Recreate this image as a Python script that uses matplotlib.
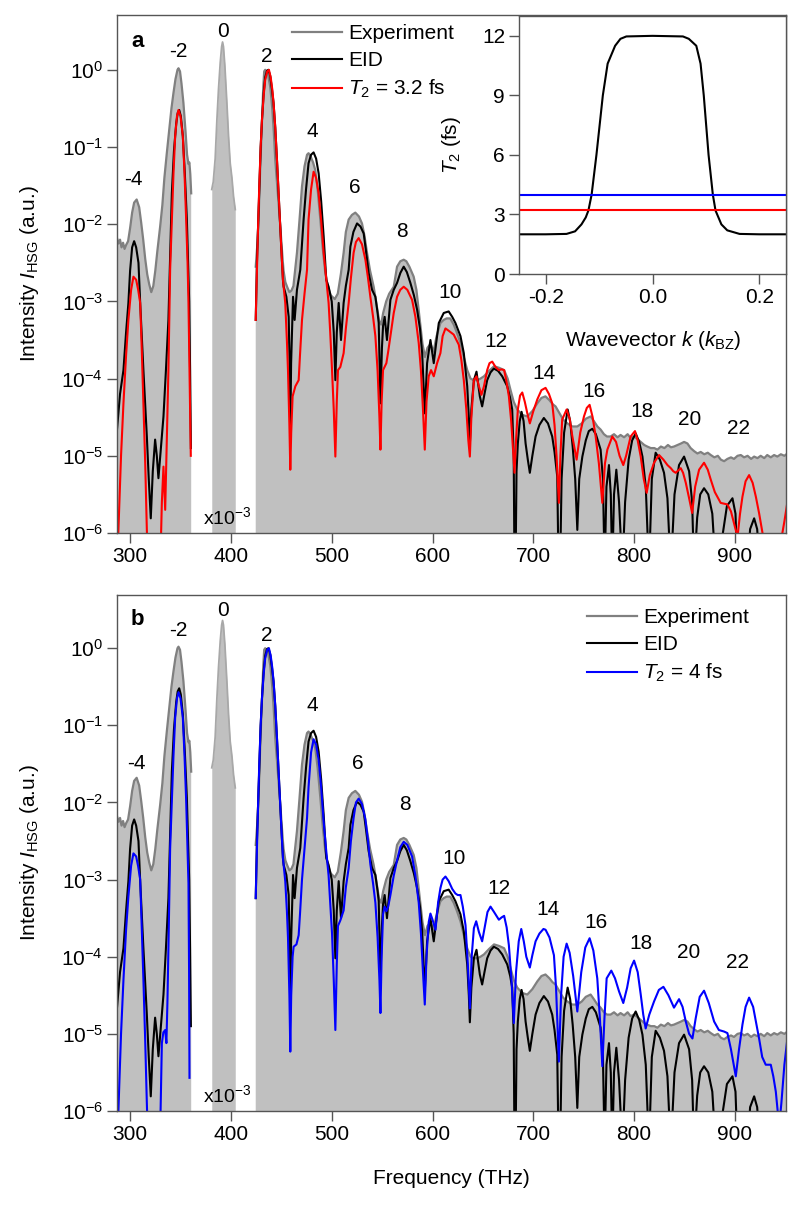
import matplotlib.pyplot as plt
import numpy as np

plt.rcParams['font.family'] = ['Liberation Sans', 'DejaVu Sans']
plt.rcParams['mathtext.fontset'] = 'custom'
plt.rcParams['mathtext.rm'] = 'Liberation Sans'
plt.rcParams['mathtext.it'] = 'Liberation Sans:italic'
plt.rcParams['mathtext.bf'] = 'Liberation Sans:bold'
plt.rcParams['axes.unicode_minus'] = False

nan = np.nan

# experiment, sidebands (log10 of intensity), gap around the laser line
exp_freq = [287, 288.5, 290, 291.5, 293, 294.5, 296, 298, 300, 302, 304, 306.5, 309, 311, 313, 315, 317, 319,
            321, 323, 325, 327, 329.8, 332, 334, 336.4, 339, 341, 343, 345, 347, 348, 349.5, 351, 352.9, 355,
            356.5, 357.9, 358.8, 359.7, 360.6, nan,
            424.6, 426, 427.4, 429, 430.8, 432, 433, 434, 435.5, 437, 439, 441, 442.5, 444, 446.5, 449, 451,
            452.2, 454, 456, 458, 460, 462, 465.5, 468, 470.5, 473, 475.5, 477, 479, 481.5, 483.7, 486, 488.7,
            491, 493.6, 496, 499, 503, 506, 509, 511.8, 514, 516.8, 520, 523.4, 527, 530, 532.5, 535, 538,
            541.6, 544, 547, 549, 551, 554, 557, 561.5, 564.8, 568, 571.4, 574, 577, 581.3, 584, 587, 590,
            592.5, 595, 598, 601, 604, 607.8, 611, 614, 617.5, 621, 624, 627.7, 631, 634.4, 637.7, 641, 644.3,
            647.5, 651, 656, 661, 666, 671, 674.5, 677.4, 680.5, 684, 689, 694, 699, 703.9, 708, 712, 716, 719,
            722, 726, 729.5, 733.7, 738.5, 743.6, 748, 752, 756.8, 760, 763.5, 766.7, 770, 773, 776.6, 780,
            783.5, 786.5, 790, 793.5, 796.5, 799.8, 803, 806.5, 810, 813, 816.5, 820, 823, 826.5, 830, 833.5,
            836.5, 839.5, 843, 846.5, 849.5, 852.8, 856, 859.5, 862.7, 866, 869.5, 873, 876, 879.5, 883, 886,
            889.2, 892.5, 896, 899, 902.5, 905.8, 909, 912.5, 916, 919, 922.3, 925.5, 929, 932, 935.5, 938.8,
            942, 945.5, 949, 952]
exp_log = [-2.18, -2.25, -2.20, -2.30, -2.24, -2.32, -2.27, -2.22, -2.05, -1.85, -1.72, -1.68, -1.78, -1.98,
           -2.2, -2.45, -2.65, -2.78, -2.88, -2.80, -2.60, -2.35, -2.03, -1.75, -1.40, -1.08, -0.75, -0.50,
           -0.30, -0.12, 0.0, 0.02, -0.02, -0.18, -0.43, -0.80, -1.10, -1.22, -1.20, -1.35, -1.6, nan,
           -2.55, -2.3, -1.94, -1.3, -0.65, -0.25, -0.02, 0.0, -0.03, -0.08, -0.22, -0.5, -0.8, -1.17, -1.6,
           -2.03, -2.4, -2.6, -2.75, -2.82, -2.88, -2.86, -2.8, -2.37, -1.95, -1.51, -1.25, -1.10, -1.08,
           -1.12, -1.2, -1.30, -1.55, -1.94, -2.3, -2.63, -2.8, -2.92, -2.97, -2.9, -2.65, -2.37, -2.1, -1.94,
           -1.88, -1.85, -1.9, -1.99, -2.15, -2.37, -2.6, -2.81, -3.0, -3.25, -3.3, -3.15, -3.0, -2.9, -2.81,
           -2.55, -2.48, -2.46, -2.48, -2.55, -2.68, -2.85, -3.2, -3.55, -3.72, -3.6, -3.55, -3.65, -3.45,
           -3.28, -3.24, -3.22, -3.22, -3.3, -3.4, -3.54, -3.72, -3.89, -4.0, -4.02, -4.02, -4.0, -3.97, -3.9,
           -3.84, -3.86, -3.89, -4.0, -4.15, -4.3, -4.40, -4.47, -4.49, -4.42, -4.32, -4.25, -4.23, -4.28,
           -4.33, -4.36, -4.45, -4.53, -4.58, -4.62, -4.62, -4.58, -4.52, -4.49, -4.55, -4.62, -4.66, -4.72,
           -4.75, -4.75, -4.72, -4.76, -4.73, -4.76, -4.72, -4.77, -4.75, -4.78, -4.82, -4.86, -4.88, -4.9,
           -4.9, -4.92, -4.88, -4.9, -4.86, -4.89, -4.88, -4.86, -4.84, -4.82, -4.84, -4.9, -4.94, -4.97,
           -4.95, -4.98, -4.96, -4.99, -5.02, -5.0, -5.05, -5.07, -5.04, -5.02, -5.04, -5.0, -4.99, -5.02,
           -5.0, -5.04, -5.01, -5.03, -5.0, -5.03, -4.99, -5.02, -4.99, -5.01, -4.98, -5.0, -4.97]

# zero order (shown x10^-3)
zero_freq = [381, 382.5, 384.4, 386.1, 387.7, 389.4, 390.8, 391.7, 392.6, 394, 396, 397.6, 399.3, 401,
             402.6, 404.3]
zero_log = [-1.55, -1.45, -1.15, -0.65, -0.25, 0.09, 0.3, 0.36, 0.3, 0.05, -0.43, -0.85, -1.21, -1.4,
            -1.64, -1.81]

# EID calculation
eid_freq = [287, 290, 293.4, 296, 298.3, 300, 302, 304, 306, 308.3, 310, 313.2, 316.6, 318.5, 320.5, 322.5,
            324.8, 326.5, 328.1, 330.5, 333.1, 335.5, 338, 339.7, 341.4, 343.5, 345.7, 347.2, 348.7, 350.3,
            352.3, 354.3, 356.3, 357.5, 358.6, 359.5, 360.3, nan,
            424.6, 425.2, 425.8, 427, 428.1, 429.5, 430.8, 432.5, 434, 435.8, 437.2, 439, 440.7, 442.3, 444,
            445.7, 447.3, 449, 450.3, 451.6, 452.3, 455, 457.3, 458.2, 458.9, 459.7, 461.6, 463.2, 465.5,
            468.8, 470.5, 472.1, 474.5, 477, 479.5, 482, 484.5, 487, 489.5, 492, 494.6, 496.9, 500, 502, 503.6,
            505, 506.9, 509.2, 511.8, 514, 516.8, 518.5, 521.5, 525.1, 528.5, 531.7, 534, 536.6, 540, 543.3,
            545.5, 546.6, 548.3, 549.8, 550.9, 552.5, 554.8, 558.2, 561.5, 564.8, 568.1, 571.4, 574.5, 578,
            581.5, 584.7, 587.5, 589.7, 592.3, 594.6, 597.9, 601.2, 603.5, 606.2, 611.1, 616, 619.5, 622.7,
            627.7, 631, 634.4, 636, 637, 638.5, 641, 643.6, 646.9, 649.2, 651.5, 654.2, 657.5, 660.8, 665,
            669.1, 674.1, 677, 679, 680.5, 681.3, 682.3, 683.3, 684.6, 686.5, 688.3, 690.3, 692.3, 694.5,
            696.5, 699, 702.2, 706, 710.4, 714.5, 718.7, 721, 723.7, 725, 726.5, 728, 730.5, 734, 736.5, 739,
            741.5, 743.6, 745.5, 748.6, 752, 755, 758.5, 762, 766.7, 769, 770.7, 772.5, 775, 776.8, 778.3,
            780, 782.3, 785, 788.3, 791, 794.5, 798, 801.5, 805, 808.2, 811.5, 814.7, 817.5, 821.3, 825.5,
            829.6, 833, 836.3, 840, 844.5, 849.5, 854.5, 857.5, 859.4, 862.5, 865.5, 869.3, 873.5, 877.5, 881,
            884, 888, 892, 897.5, 900.5, 902.5, 912, 915, 919, 922, 925, 952]
eid_log = [-4.66, -4.2, -3.89, -3.4, -3.02, -2.6, -2.3, -2.22, -2.3, -2.5, -3.02, -3.89, -4.75, -5.3, -5.81,
           -5.2, -4.79, -5.0, -5.29, -4.9, -4.49, -3.9, -3.24, -2.4, -1.6, -1.05, -0.70, -0.56, -0.52, -0.6,
           -0.86, -1.35, -1.94, -2.5, -3.0, -3.9, -4.9, nan,
           -3.24, -2.9, -2.5, -2.0, -1.51, -1.0, -0.65, -0.3, -0.1, -0.01, 0.0, -0.08, -0.25, -0.43, -0.75,
           -1.17, -1.6, -2.03, -2.4, -2.72, -2.81, -2.94, -3.2, -3.8, -4.71, -3.8, -2.94, -3.24, -2.85, -2.59,
           -2.25, -1.94, -1.55, -1.21, -1.1, -1.07, -1.15, -1.34, -1.7, -2.16, -2.72, -2.81, -3.0, -3.4, -4.02,
           -3.4, -3.02, -3.5, -3.02, -2.8, -2.59, -2.29, -2.1, -1.99, -2.03, -2.12, -2.35, -2.63, -2.85, -2.94,
           -3.15, -3.28, -4.32, -3.6, -3.32, -3.2, -3.5, -2.98, -2.85, -2.76, -2.63, -2.55, -2.62, -2.76,
           -2.92, -3.11, -3.35, -3.67, -4.45, -3.80, -3.5, -3.8, -3.55, -3.28, -3.15, -3.13, -3.2, -3.28,
           -3.45, -3.67, -4.1, -4.5, -4.85, -4.4, -4.02, -3.91, -4.23, -4.36, -4.2, -4.02, -3.92, -3.87, -3.9,
           -3.97, -4.10, -4.25, -4.40, -5.0, -6.5, -6.5, -5.2, -4.84, -4.55, -4.43, -4.55, -4.84, -5.05,
           -5.22, -5.0, -4.75, -4.6, -4.51, -4.58, -4.75, -4.95, -5.27, -6.5, -6.5, -5.3, -4.7, -4.40, -4.55,
           -4.88, -5.3, -5.96, -5.3, -5.01, -4.8, -4.68, -4.65, -4.72, -4.92, -5.3, -6.5, -5.4, -5.12, -5.5,
           -6.5, -5.5, -5.18, -5.6, -6.5, -5.6, -5.05, -4.8, -4.71, -4.82, -5.01, -5.4, -6.5, -5.3, -4.96,
           -5.05, -5.22, -5.55, -6.5, -5.5, -5.12, -5.01, -5.2, -5.6, -6.5, -5.8, -5.5, -5.42, -5.5, -5.75,
           -6.5, -6.5, -6.0, -5.65, -5.55, -5.75, -6.5, -6.5, -5.95, -5.81, -5.95, -6.5, -6.5]

# constant T2 = 3.2 fs (panel a)
t32_freq = [287, 288.4, 291, 293.4, 296, 298.3, 301, 303.3, 306, 308, 310, 311.5, 313.2, 315, 316.6, 318,
            329.8, 331.5, 333.1, 334.2, 334.8, 336, 338, 339.7, 341.4, 343, 344.7, 346.5, 348, 350, 352.3, 354,
            355.6, 357, 357.9, 359, 360.2, nan,
            424.6, 425.2, 425.8, 427, 428.1, 429.5, 430.8, 432.5, 434, 436, 437.7, 439.5, 441, 442.3, 444,
            445.7, 447.3, 449, 450.3, 451.6, 453.9, 455.5, 456.6, 458, 458.9, 459.8, 461.2, 463.9, 467.2,
            468.5, 470.5, 473, 475.5, 477, 479.5, 482, 484.5, 487, 489.5, 492, 494.5, 496.9, 498.5, 500.3, 502,
            503.6, 505, 506.2, 508.5, 511.8, 514, 516.8, 519, 521.7, 524, 526.7, 530, 533.4, 536, 538.3, 541,
            543.3, 545.5, 547.3, 548.3, 549.5, 550.9, 554.2, 556, 558.2, 561.5, 564.8, 568, 571.4, 575, 579.7,
            583, 586.3, 588.5, 590.5, 592.3, 594, 596.2, 598.5, 601.2, 604.5, 607.8, 610, 612.8, 616, 621, 626,
            628.5, 631, 633.5, 635.5, 637, 638.5, 641, 643.6, 646, 648.5, 651, 654.2, 656.5, 659.2, 662.5,
            665.8, 668.5, 671, 673.5, 675.7, 678, 680, 681.3, 682.8, 684.6, 686.8, 689, 691.5, 694, 696.5, 700,
            703.9, 708, 712.1, 715.5, 718.7, 721, 723, 725.3, 726.8, 728.6, 733, 736, 738.7, 742.9, 746.5,
            750.2, 753, 755.8, 758.8, 761.8, 765, 768.4, 771, 773.4, 778.3, 782, 785.5, 789.2, 792, 796.5,
            800.8, 803.5, 806.5, 809.5, 812.4, 815.5, 819.7, 824.7, 829, 833, 836.3, 838.8, 841.2, 846.2,
            848.5, 851.2, 854.5, 857.5, 860.5, 864.4, 869.3, 873, 876, 880, 885.8, 892.5, 896, 899, 902.5, 905,
            907.4, 910.5, 914, 917.5, 920.7, 924, 927.3, 930, 945, 947, 949, 952]
t32_log = [-6.5, -5.96, -5.0, -4.32, -3.7, -3.24, -2.85, -2.68, -2.72, -2.85, -3.02, -3.6, -4.32, -5.1, -5.96,
           -6.5, -6.5, -5.6, -5.14, -5.5, -5.70, -5.0, -3.89, -2.59, -1.94, -1.35, -0.86, -0.6, -0.52, -0.6,
           -0.86, -1.35, -1.94, -2.5, -3.02, -4.0, -5.0, nan,
           -3.24, -2.9, -2.6, -2.0, -1.51, -1.0, -0.65, -0.33, -0.13, -0.02, 0.0, -0.1, -0.25, -0.43, -0.75,
           -1.17, -1.6, -2.03, -2.4, -2.72, -3.02, -3.5, -3.89, -4.6, -5.18, -4.7, -4.23, -4.10, -4.02, -3.7,
           -3.24, -2.9, -2.59, -1.94, -1.55, -1.32, -1.4, -1.60, -1.95, -2.37, -2.7, -3.02, -3.4, -3.89, -4.4,
           -5.01, -4.3, -3.89, -3.85, -3.67, -3.35, -3.02, -2.7, -2.37, -2.23, -2.18, -2.26, -2.46, -2.7,
           -2.94, -3.2, -3.45, -3.9, -4.5, -4.92, -4.3, -3.89, -3.80, -3.65, -3.45, -3.15, -2.94, -2.85,
           -2.81, -2.85, -2.98, -3.2, -3.54, -3.9, -4.4, -4.92, -4.3, -3.97, -3.89, -3.97, -3.8, -3.67, -3.45,
           -3.35, -3.38, -3.43, -3.56, -3.75, -4.02, -4.4, -4.8, -5.01, -4.5, -4.02, -3.97, -4.1, -4.21, -4.1,
           -3.89, -3.8, -3.78, -3.85, -3.89, -3.88, -3.89, -4.05, -4.23, -4.55, -4.95, -5.22, -4.8, -4.40,
           -4.22, -4.18, -4.3, -4.45, -4.58, -4.42, -4.27, -4.15, -4.12, -4.2, -4.32, -4.6, -5.0, -5.61, -5.0,
           -4.53, -4.40, -4.52, -4.75, -5.05, -4.7, -4.49, -4.38, -4.34, -4.5, -4.75, -5.1, -5.61, -5.1,
           -4.92, -4.75, -4.82, -5.0, -5.12, -5.0, -4.75, -4.68, -4.8, -5.01, -5.3, -5.48, -5.25, -5.09,
           -4.99, -5.05, -5.12, -5.16, -5.2, -5.22, -5.16, -5.22, -5.35, -5.55, -5.74, -5.4, -5.18, -5.09,
           -5.18, -5.31, -5.47, -5.61, -5.63, -5.72, -5.87, -6.05, -5.75, -5.53, -5.33, -5.25, -5.35, -5.53,
           -5.75, -6.0, -6.5, -6.5, -6.0, -5.85, -5.6]

# constant T2 = 4 fs (panel b)
t4_freq = [287, 288.4, 291, 293.4, 296, 298.3, 301, 303.3, 306, 308, 310, 311.5, 313.2, 315, 316.6, 318,
           329.5, 331.5, 333, 334.8, 336, 337, 338, 339.7, 341.4, 343, 344.7, 346.5, 348, 350, 352.3, 354,
           355.6, 357, 357.9, 358.5, 358.9, nan,
           424.6, 425.2, 425.8, 427, 428.1, 429.5, 430.8, 432.5, 434, 436, 437.7, 439.5, 441, 442.3, 444,
           445.7, 447.3, 449, 450.3, 451.6, 453.9, 455.5, 456.6, 458, 458.9, 459.8, 461.2, 462.2, 465, 467.2,
           468.5, 470.5, 473, 475.5, 477, 479.5, 482, 484.5, 487, 489.5, 492, 494.5, 496.9, 498.5, 500.3, 502,
           503.6, 505, 506.2, 508.5, 511.8, 514, 516.8, 519, 521.7, 524, 526.7, 530, 533.4, 536, 538.3, 541,
           543.3, 545.5, 547.3, 548.3, 549.5, 550.9, 552.5, 554.2, 556, 558.2, 561.5, 564.8, 568, 571.4, 575,
           579.7, 583, 586.3, 588.5, 590.5, 592.3, 594, 596.2, 597.9, 600, 602.9, 605.5, 607.8, 610, 612.8,
           616, 619.5, 622.7, 625, 627.7, 630, 632.7, 635, 637, 638.8, 641, 643.3, 646, 649.2, 652, 654.5,
           657.5, 661, 665.8, 668.5, 671, 673.5, 675.7, 678.3, 680.6, 682.8, 685.5, 688, 690.5, 693, 696.5,
           699, 702.2, 706, 710, 712.1, 716, 720.4, 722.5, 725.3, 727.5, 730, 733, 736, 739.5, 743.6, 747.5,
           751.5, 755.8, 759.5, 763.4, 766, 768.4, 770.5, 772.7, 777.3, 781, 785, 789.2, 793, 796.5, 799.9,
           803.5, 806.5, 809, 811.4, 815, 819.7, 824.5, 829, 834, 839.5, 844.5, 848, 851.2, 854.5, 857.8,
           861, 865, 869.3, 874, 879.3, 884, 889.2, 892.5, 896, 900.8, 904, 907.4, 910.5, 914, 918, 923.9,
           927, 930.5, 935.5, 938, 940.5, 943.8, 946, 949, 952]
t4_log = [-6.5, -5.99, -5.0, -4.30, -3.65, -3.22, -2.82, -2.66, -2.7, -2.83, -3.0, -3.6, -4.3, -5.1, -5.9,
          -6.5, -6.5, -5.12, -4.98, -4.95, -5.12, -4.6, -3.9, -2.6, -1.97, -1.4, -0.9, -0.65, -0.57, -0.65,
          -0.9, -1.4, -1.97, -2.6, -3.05, -4.2, -5.57, nan,
          -3.24, -2.9, -2.6, -2.0, -1.51, -1.0, -0.65, -0.33, -0.13, -0.02, 0.0, -0.1, -0.25, -0.43, -0.75,
          -1.17, -1.6, -2.03, -2.4, -2.72, -3.02, -3.4, -3.75, -4.5, -5.23, -4.5, -4.0, -3.87, -3.84, -3.72,
          -3.45, -3.0, -2.6, -2.2, -1.8, -1.35, -1.18, -1.25, -1.45, -1.8, -2.25, -2.62, -2.95, -3.3, -3.7,
          -4.3, -4.95, -4.1, -3.6, -3.53, -3.4, -3.1, -2.85, -2.5, -2.2, -2.0, -1.95, -2.02, -2.22, -2.5,
          -2.8, -3.05, -3.3, -3.75, -4.3, -4.73, -4.0, -3.45, -3.35, -3.41, -3.35, -3.2, -2.95, -2.75, -2.58,
          -2.51, -2.55, -2.7, -2.95, -3.3, -3.7, -4.2, -4.62, -4.0, -3.55, -3.44, -3.52, -3.65, -3.3, -3.11,
          -3.0, -2.96, -3.02, -3.12, -3.18, -3.2, -3.20, -3.35, -3.59, -4.1, -4.67, -4.0, -3.63, -3.54,
          -3.68, -3.80, -3.6, -3.42, -3.35, -3.42, -3.52, -3.49, -3.47, -3.62, -3.85, -4.3, -4.86, -4.2,
          -3.8, -3.64, -3.8, -4.0, -4.14, -3.98, -3.80, -3.7, -3.64, -3.65, -3.75, -3.98, -4.4, -5.36, -4.5,
          -4.0, -3.83, -3.95, -4.25, -4.71, -4.2, -3.88, -3.76, -3.92, -4.28, -4.8, -5.42, -4.8, -4.28,
          -4.18, -4.28, -4.45, -4.60, -4.4, -4.15, -4.05, -4.2, -4.49, -4.75, -4.93, -4.75, -4.58, -4.43,
          -4.39, -4.5, -4.66, -4.55, -4.65, -4.84, -5.0, -5.06, -4.8, -4.52, -4.44, -4.6, -4.84, -4.95,
          -4.97, -4.99, -5.2, -5.55, -5.2, -4.88, -4.65, -4.53, -4.65, -5.06, -5.3, -5.40, -5.40, -5.55,
          -5.75, -6.2, -5.9, -5.4, -5.06]

# inset: k-dependent dephasing time
k_vals = [-0.25, -0.2, -0.161, -0.145, -0.133, -0.125, -0.120, -0.114, -0.105, -0.093, -0.084, -0.070, -0.06,
          -0.049, 0.0, 0.057, 0.068, 0.082, 0.09, 0.096, 0.105, 0.113, 0.118, 0.129, 0.14, 0.163, 0.2, 0.25]
t2_vals = [2.0, 2.0, 2.02, 2.15, 2.5, 2.85, 3.2, 4.0, 6.0, 9.0, 10.6, 11.5, 11.85, 11.97, 12.0, 11.97, 11.85,
           11.5, 10.6, 9.0, 6.0, 4.0, 3.2, 2.5, 2.2, 2.02, 2.0, 2.0]

order_labels = ['-4', '-2', '0', '2', '4', '6', '8', '10', '12', '14', '16', '18', '20', '22']
a_lab_freq = [303, 347.6, 392, 436, 481, 523, 570, 617.8, 663, 711, 760, 807.5, 855, 903]
a_lab_log = [-1.425, 0.233, 0.49, 0.17, -0.80, -1.53, -2.10, -2.89, -3.52, -3.94, -4.17, -4.43, -4.53, -4.64]
b_lab_freq = [306, 347.6, 392, 436, 481, 526, 573, 621, 666, 715, 762, 806.5, 854, 902]
b_lab_log = [-1.49, 0.23, 0.49, 0.17, -0.74, -1.49, -2.02, -2.72, -3.12, -3.39, -3.55, -3.83, -3.95, -4.08]

fill_c = '#c0c0c0'
exp_c = '#808080'
frame_c = '#555555'
fs = 15

fig = plt.figure(figsize=(8, 12.06), dpi=100)
ax_a = fig.add_axes([117 / 800, 1 - 533 / 1206, 669 / 800, 518 / 1206])
ax_b = fig.add_axes([117 / 800, 1 - 1111 / 1206, 669 / 800, 516 / 1206])


def spectrum(ax, model_freq, model_log, model_c, model_lab, lab_freq, lab_log, top):
    ef = np.array(exp_freq)
    ei = 10 ** np.array(exp_log)
    ax.fill_between(ef, 1e-7, ei, color=fill_c, lw=0, zorder=1)
    ax.fill_between(zero_freq, 1e-7, 10 ** np.array(zero_log), color=fill_c, lw=0, zorder=1)
    ax.plot(zero_freq, 10 ** np.array(zero_log), color='#a8a8a8', lw=1.3, zorder=2)
    ax.plot(ef, ei, color=exp_c, lw=1.6, zorder=2, label='Experiment')
    ax.plot(eid_freq, 10 ** np.array(eid_log), color='black', lw=1.5, zorder=3, label='EID')
    ax.plot(model_freq, 10 ** np.array(model_log), color=model_c, lw=1.5, zorder=4, label=model_lab)
    ax.set_yscale('log')
    ax.set_xlim(287, 950.6)
    ax.set_ylim(1e-6, top)
    ax.set_yticks([1e-6, 1e-5, 1e-4, 1e-3, 1e-2, 1e-1, 1e0])
    ax.yaxis.set_minor_locator(plt.NullLocator())
    ax.set_xticks([300, 400, 500, 600, 700, 800, 900])
    ax.tick_params(direction='out', length=7, width=1, color=frame_c, labelsize=fs, pad=3)
    for s in ax.spines.values():
        s.set_color(frame_c)
        s.set_linewidth(1)
        s.set_zorder(5)
    for t, f, lg in zip(order_labels, lab_freq, lab_log):
        ax.text(f, 10 ** lg, t, ha='center', va='center', fontsize=fs)
    ax.text(372.5, 10 ** -5.79, r'x10$^{-3}$', ha='left', va='center', fontsize=14)
    ax.set_ylabel(r'Intensity $I_{\mathrm{HSG}}$ (a.u.)', fontsize=fs)
    ax.yaxis.set_label_coords(-0.113, 0.5)


spectrum(ax_a, t32_freq, t32_log, 'red', r'$T_2$ = 3.2 fs', a_lab_freq, a_lab_log, 10 ** 0.71)
spectrum(ax_b, t4_freq, t4_log, 'blue', r'$T_2$ = 4 fs', b_lab_freq, b_lab_log, 10 ** 0.69)

ax_a.text(0.03, 0.948, 'a', transform=ax_a.transAxes, ha='center', va='center', fontsize=16,
          fontweight='bold')
ax_b.text(0.03, 0.9516, 'b', transform=ax_b.transAxes, ha='center', va='center', fontsize=16,
          fontweight='bold')

leg_kw = dict(loc='upper left', bbox_transform=fig.transFigure, frameon=False, handlelength=2.4,
              handletextpad=0.3, labelspacing=0.38, borderpad=0, borderaxespad=0, fontsize=fs)
ax_a.legend(bbox_to_anchor=(292 / 800, 1 - 24 / 1206), **leg_kw)
ax_b.legend(bbox_to_anchor=(587 / 800, 1 - 608 / 1206), **leg_kw)

ax_b.set_xlabel('Frequency (THz)', fontsize=fs)
ax_b.xaxis.set_label_coords(0.5, -0.112)

# inset
ins = fig.add_axes([519 / 800, 1 - 274 / 1206, 267 / 800, 258 / 1206])
ins.plot(k_vals, t2_vals, color='black', lw=1.5)
ins.axhline(3.2, color='red', lw=1.5)
ins.axhline(4.0, color='blue', lw=1.5)
ins.set_xlim(-0.25, 0.25)
ins.set_ylim(0, 13)
ins.set_xticks([-0.2, 0.0, 0.2])
ins.set_xticklabels(['-0.2', '0.0', '0.2'])
ins.set_yticks([0, 3, 6, 9, 12])
ins.tick_params(direction='out', length=7, width=1, color=frame_c, labelsize=fs, pad=3)
for s in ins.spines.values():
    s.set_color(frame_c)
    s.set_linewidth(1)
ins.set_xlabel(r'Wavevector $k$ ($k_{\mathrm{BZ}}$)', fontsize=fs)
ins.xaxis.set_label_coords(0.504, -0.215)
ins.set_ylabel(r'$T_2$ (fs)', fontsize=fs)
ins.yaxis.set_label_coords(-0.21, 0.5)

fig.savefig('out.png', dpi=100)
